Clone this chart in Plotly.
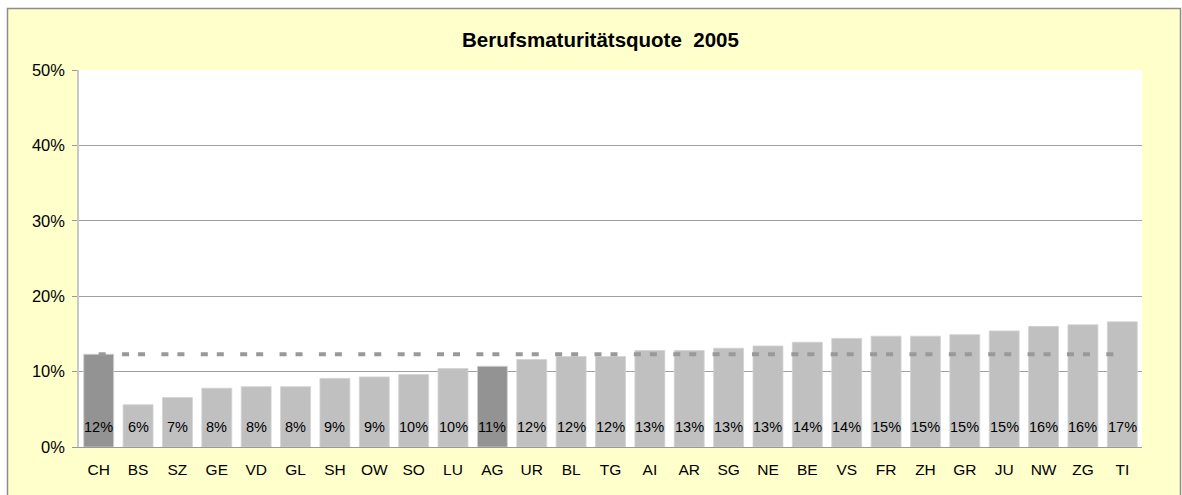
import plotly.graph_objects as go

# ---- data ----
cantons = ["CH", "BS", "SZ", "GE", "VD", "GL", "SH", "OW", "SO", "LU", "AG", "UR", "BL", "TG",
           "AI", "AR", "SG", "NE", "BE", "VS", "FR", "ZH", "GR", "JU", "NW", "ZG", "TI"]
quote = [12.3, 5.6, 6.55, 7.8, 8.0, 8.0, 9.1, 9.3, 9.6, 10.4, 10.7, 11.6, 12.0, 12.0,
         12.8, 12.8, 13.1, 13.4, 13.9, 14.4, 14.7, 14.7, 14.9, 15.4, 16.0, 16.2, 16.6]
highlight = ["CH", "AG"]
ch_reference = [quote[cantons.index("CH")]] * len(cantons)
y_ticks = [0, 10, 20, 30, 40, 50]
y_tick_labels = ["0%", "10%", "20%", "30%", "40%", "50%"]
title_text = "Berufsmaturitätsquote  2005"

FONT = "Liberation Sans, Arial, sans-serif"

colors = ["#939393" if c in highlight else "#C0C0C0" for c in cantons]

fig = go.Figure()
fig.add_trace(go.Bar(
    x=cantons, y=quote,
    marker=dict(color=colors, line=dict(color="#D2D2D2", width=0.8)),
    hoverinfo="x+y", showlegend=False,
))
fig.add_trace(go.Scatter(
    x=cantons, y=ch_reference, mode="lines",
    line=dict(color="#999999", width=4, dash="7px,16.37px,7px,9px"),
    hoverinfo="skip", showlegend=False,
))

W, H = 1182, 495
L, R, T, B = 79, 40, 70, 48
pw = W - L - R
ph = H - T - B

def px_x(p):
    return (p - L) / pw

def px_y(p):
    return (H - B - p) / ph

annotations = [
    dict(text=f"<b>{title_text}</b>", xref="paper", yref="paper",
         x=px_x(600), y=px_y(40), xanchor="center", yanchor="middle",
         showarrow=False, font=dict(family=FONT, size=20.5, color="#000000")),
]
for c, v in zip(cantons, quote):
    annotations.append(dict(
        text=f"{v:.0f}%", x=c, y=0, xref="x", yref="y",
        xanchor="center", yanchor="middle", yshift=20.5, showarrow=False,
        font=dict(family=FONT, size=14.5, color="#000000"),
    ))

fig.update_layout(
    width=W, height=H,
    margin=dict(l=L, r=R, t=T, b=B),
    paper_bgcolor="#FFFFFF", plot_bgcolor="#FFFFFF",
    bargap=0.24,
    font=dict(family=FONT, color="#000000"),
    shapes=[
        dict(type="rect", xref="paper", yref="paper", layer="below",
             x0=px_x(7.5), x1=px_x(1180.5), y0=px_y(520), y1=px_y(8.5),
             fillcolor="#FFFFCC", line=dict(color="#8C8C8C", width=1.5)),
        dict(type="rect", xref="paper", yref="paper", layer="below",
             x0=0, x1=1, y0=0, y1=1,
             fillcolor="#FFFFFF", line=dict(width=0)),
    ],
    annotations=annotations,
    xaxis=dict(
        type="category", showgrid=False, showline=True, linecolor="#999999", linewidth=1,
        ticks="", tickfont=dict(family=FONT, size=15.5, color="#000000"),
        ticklabelstandoff=8,
        range=[-0.5, len(cantons) - 0.5], fixedrange=True,
    ),
    yaxis=dict(
        range=[0, 50], tickvals=y_ticks, ticktext=y_tick_labels,
        showgrid=True, gridcolor="#A0A0A0", gridwidth=1,
        showline=True, linecolor="#C8C8C8", linewidth=1.5,
        ticks="outside", ticklen=5, tickcolor="#999999",
        tickfont=dict(family=FONT, size=16.5, color="#000000"),
        ticklabelstandoff=4,
        zeroline=False, fixedrange=True,
    ),
)

fig.write_html("out.html", config={"displayModeBar": False},
               post_script="document.body.style.margin='0';")
